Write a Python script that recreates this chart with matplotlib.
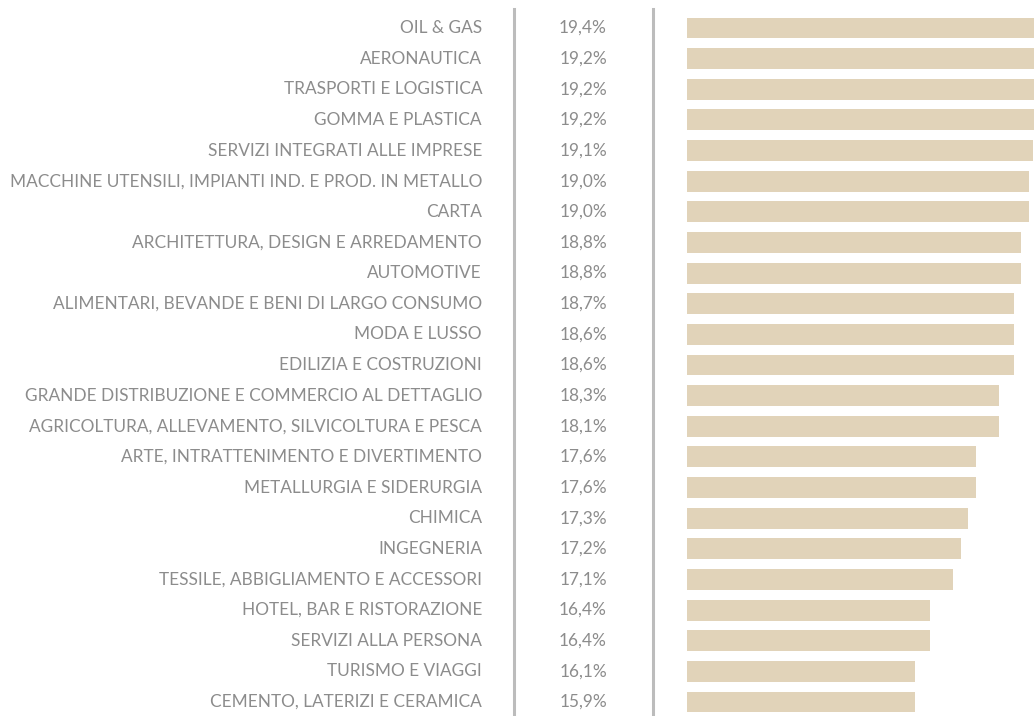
import matplotlib
matplotlib.use("Agg")
import matplotlib.pyplot as plt
import matplotlib.transforms as mtransforms
from matplotlib.lines import Line2D

# settori e valori mostrati
settori = [
    "OIL & GAS", "AERONAUTICA", "TRASPORTI E LOGISTICA", "GOMMA E PLASTICA",
    "SERVIZI INTEGRATI ALLE IMPRESE",
    "MACCHINE UTENSILI, IMPIANTI IND. E PROD. IN METALLO", "CARTA",
    "ARCHITETTURA, DESIGN E ARREDAMENTO", "AUTOMOTIVE",
    "ALIMENTARI, BEVANDE E BENI DI LARGO CONSUMO", "MODA E LUSSO",
    "EDILIZIA E COSTRUZIONI", "GRANDE DISTRIBUZIONE E COMMERCIO AL DETTAGLIO",
    "AGRICOLTURA, ALLEVAMENTO, SILVICOLTURA E PESCA",
    "ARTE, INTRATTENIMENTO E DIVERTIMENTO", "METALLURGIA E SIDERURGIA",
    "CHIMICA", "INGEGNERIA", "TESSILE, ABBIGLIAMENTO E ACCESSORI",
    "HOTEL, BAR E RISTORAZIONE", "SERVIZI ALLA PERSONA", "TURISMO E VIAGGI",
    "CEMENTO, LATERIZI E CERAMICA",
]
etichette = ["19,4%", "19,2%", "19,2%", "19,2%", "19,1%", "19,0%", "19,0%",
             "18,8%", "18,8%", "18,7%", "18,6%", "18,6%", "18,3%", "18,1%",
             "17,6%", "17,6%", "17,3%", "17,2%", "17,1%", "16,4%", "16,4%",
             "16,1%", "15,9%"]
# lunghezza delle barre come appare nel grafico (%)
barre = [19.4, 19.2, 19.2, 19.2, 19.1, 19.0, 19.0, 18.8, 18.8, 18.6, 18.6,
         18.6, 18.2, 18.2, 17.6, 17.6, 17.4, 17.2, 17.0, 16.4, 16.4, 16.0, 16.0]

W, H = 1034, 716
grigio = "#8c8c8c"
plt.rcParams["font.family"] = ["Lato", "DejaVu Sans"]

fig = plt.figure(figsize=(W / 100, H / 100), dpi=100)
passo = 30.64
y_top = -28 / passo
y_bot = len(settori) - 1 + (H - 702) / passo
ax = fig.add_axes([687 / W, 0, (W - 687) / W, 1])
ax.barh(range(len(barre)), barre, height=0.685, left=0, color="#e1d3b9")
ax.set_xlim(10, 10 + (W - 687) / 38.0)
ax.set_ylim(y_bot, y_top)
ax.axis("off")

trans = mtransforms.blended_transform_factory(fig.transFigure, ax.transData)
for i, (s, e) in enumerate(zip(settori, etichette)):
    ax.text(482 / W, i, s, transform=trans, ha="right", va="center",
            fontsize=12.4, color=grigio, clip_on=False)
    ax.text(583 / W, i, e, transform=trans, ha="center", va="center",
            fontsize=12.4, color=grigio, clip_on=False)

for xp in (514, 653):
    fig.add_artist(Line2D([xp / W, xp / W], [0, 1 - 9 / H], color="#bcbcbc",
                          lw=2.2, transform=fig.transFigure))

fig.savefig("out.png", dpi=100)
